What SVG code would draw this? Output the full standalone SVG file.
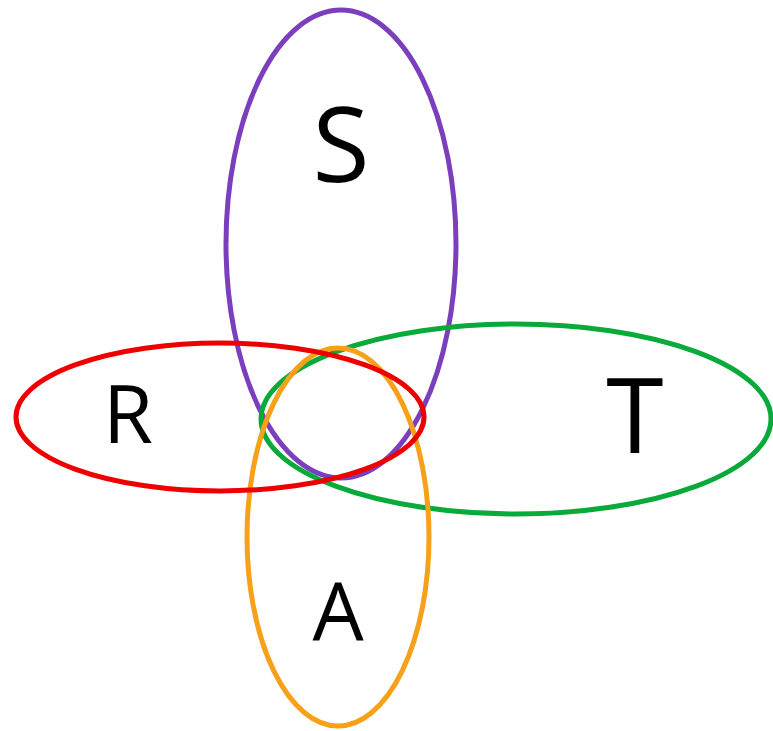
<svg xmlns="http://www.w3.org/2000/svg" width="773" height="731" viewBox="0 0 773 731">
<style>
.e{fill:none;stroke-width:5}
.big{font-family:"Open Sans","Liberation Sans",sans-serif;font-size:104px;fill:#000;text-anchor:middle}
.small{font-family:"Open Sans","Liberation Sans",sans-serif;font-size:81px;fill:#000;text-anchor:middle}
</style>
<rect width="773" height="731" fill="#fff"/>
<g id="S">
<ellipse class="e" cx="341" cy="244" rx="115" ry="234" stroke="#7B3FBE"/>
<text class="big" x="341" y="182">S</text>
</g>
<g id="T">
<ellipse class="e" cx="516" cy="419" rx="255" ry="95" stroke="#0AAA3A"/>
<text class="big" x="635" y="453">T</text>
</g>
<g id="A">
<ellipse class="e" cx="338" cy="537" rx="91" ry="189" stroke="#F7A01A"/>
<text class="small" x="338" y="640">A</text>
</g>
<g id="R">
<ellipse class="e" cx="220" cy="417" rx="204" ry="74" stroke="#EE0000"/>
<text class="small" x="128" y="443">R</text>
</g>
<g id="connectors"></g>
</svg>
